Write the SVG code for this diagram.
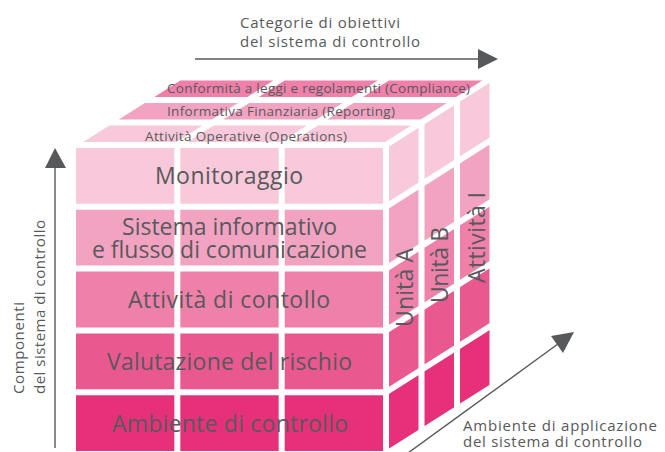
<svg xmlns="http://www.w3.org/2000/svg" width="665" height="452" viewBox="0 0 665 452">
<style>
.t{font-family:"Open Sans","Noto Sans","Liberation Sans",sans-serif;fill:#58595b}
.big{font-size:23px}
.sm{font-size:13.5px}
.ax{font-size:15px}
.g{stroke:#fff;stroke-width:6;fill:none}
.c0{fill:#f8c9da}.c1{fill:#f3a3c2}.c2{fill:#ef80aa}.c3{fill:#ea5890}.c4{fill:#e6317a}
.axl{stroke:#58595b;stroke-width:1.4;fill:none}
.ah{fill:#58595b}
</style>
<g id="top-face">
<polygon class="c0" points="73,145 386,145 421.5,122.5 108.5,122.5"/>
<polygon class="c1" points="108.5,122.5 421.5,122.5 457,100 144,100"/>
<polygon class="c2" points="144,100 457,100 492.5,77.5 179.5,77.5"/>
</g>
<g id="side-face">
<polygon class="c0" points="386,145 492.5,77.5 492.5,139.3 386,206.8"/>
<polygon class="c1" points="386,206.8 492.5,139.3 492.5,201.1 386,268.6"/>
<polygon class="c2" points="386,268.6 492.5,201.1 492.5,262.9 386,330.4"/>
<polygon class="c3" points="386,330.4 492.5,262.9 492.5,324.7 386,392.2"/>
<polygon class="c4" points="386,392.2 492.5,324.7 492.5,386.5 386,454"/>
</g>
<g id="front-face">
<rect class="c0" x="73" y="145" width="313" height="61.8"/>
<rect class="c1" x="73" y="206.8" width="313" height="61.8"/>
<rect class="c2" x="73" y="268.6" width="313" height="61.8"/>
<rect class="c3" x="73" y="330.4" width="313" height="61.8"/>
<rect class="c4" x="73" y="392.2" width="313" height="61.8"/>
</g>
<g id="grid">
<path class="g" d="M73,145V454M177.33,145V454M281.67,145V454M386,145V454M73,145H386M73,206.8H386M73,268.6H386M73,330.4H386M73,392.2H386M73,454H386"/>
<path class="g" d="M386,145l106.5,-67.5M386,206.8l106.5,-67.5M386,268.6l106.5,-67.5M386,330.4l106.5,-67.5M386,392.2l106.5,-67.5M386,454l106.5,-67.5M421.5,122.5V431.5M457,100V409M492.5,77.5V386.5"/>
<path class="g" d="M73,145l106.5,-67.5M177.33,145l106.5,-67.5M281.67,145l106.5,-67.5M108.5,122.5H421.5M144,100H457M179.5,77.5H492.5"/>
</g>
<g id="objectives">
<text class="t sm" x="167" y="93" textLength="303">Conformità a leggi e regolamenti (Compliance)</text>
<text class="t sm" x="167" y="116" textLength="228">Informativa Finanziaria (Reporting)</text>
<text class="t sm" x="145" y="140.5" textLength="202">Attività Operative (Operations)</text>
</g>
<g id="components">
<text class="t big" x="155" y="184" textLength="148">Monitoraggio</text>
<text class="t big" x="122" y="235" textLength="215">Sistema informativo</text>
<text class="t big" x="92" y="258" textLength="275">e flusso di comunicazione</text>
<text class="t big" x="128" y="308" textLength="202">Attività di contollo</text>
<text class="t big" x="107" y="370" textLength="245">Valutazione del rischio</text>
<text class="t big" x="112" y="432" textLength="236">Ambiente di controllo</text>
</g>
<g id="units">
<text class="t big" transform="translate(413,327) rotate(-90)" textLength="79">Unità A</text>
<text class="t big" transform="translate(448,303) rotate(-90)" textLength="76">Unità B</text>
<text class="t big" transform="translate(485,283) rotate(-90)" textLength="91">Attività I</text>
</g>
<g id="connectors">
<line class="axl" x1="195" y1="59" x2="482" y2="59"/>
<polygon class="ah" points="478,49 498,59 478,69"/>
<line class="axl" x1="55" y1="448" x2="55" y2="162"/>
<polygon class="ah" points="45,168 55,148 66,168"/>
<line class="axl" x1="408" y1="453" x2="562" y2="341"/>
<polygon class="ah" points="574,332 551,336 563,353"/>
</g>
<g id="axis-labels">
<text class="t ax" x="240" y="28" textLength="160">Categorie di obiettivi</text>
<text class="t ax" x="240" y="47" textLength="180">del sistema di controllo</text>
<text class="t ax" transform="translate(24,394) rotate(-90)" textLength="92">Componenti</text>
<text class="t ax" transform="translate(45,394) rotate(-90)" textLength="174">del sistema di controllo</text>
<text class="t ax" x="463" y="431" textLength="194">Ambiente di applicazione</text>
<text class="t ax" x="463" y="447" textLength="179">del sistema di controllo</text>
</g>
</svg>
